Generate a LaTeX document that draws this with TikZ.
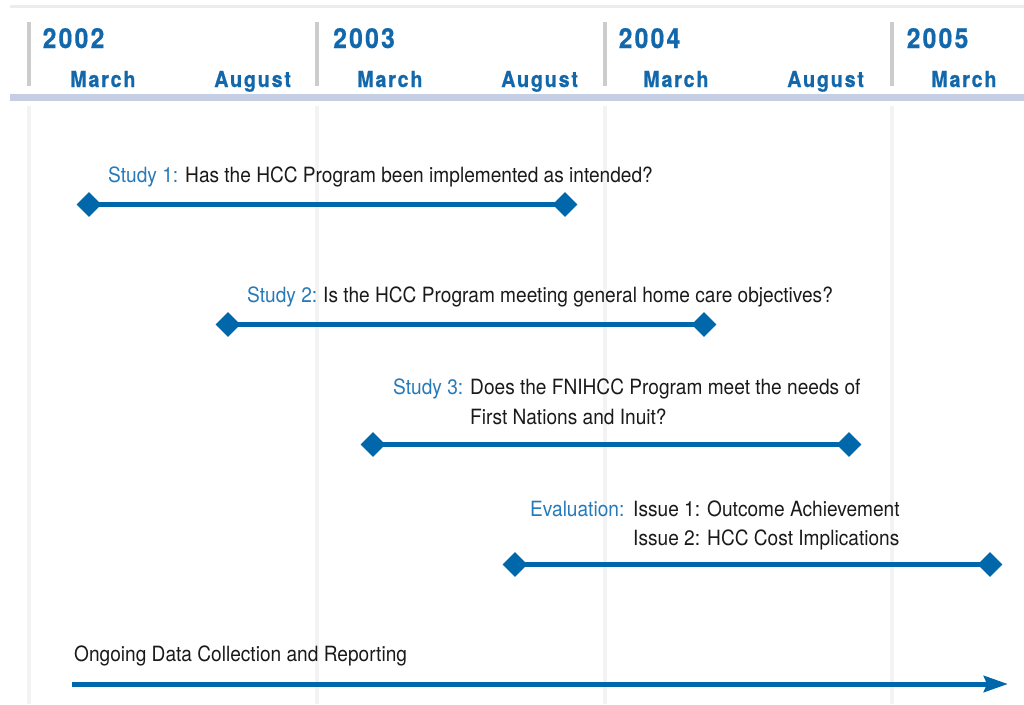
\documentclass[tikz,border=0pt]{standalone}
\usepackage{fontspec}
\setmainfont{TeX Gyre Heros}[FakeStretch=0.91]
\newfontfamily\headfont{TeX Gyre Heros}[FakeStretch=0.9,LetterSpace=8,FakeBold=0.6]
\usetikzlibrary{shapes.geometric,arrows.meta}
\definecolor{barblue}{RGB}{0,104,170}
\definecolor{labblue}{RGB}{38,122,186}
\definecolor{headblue}{RGB}{18,104,170}
\definecolor{bandblue}{RGB}{197,206,227}
\definecolor{sepgray}{RGB}{204,204,204}
\definecolor{gridgray}{RGB}{243,243,243}
\definecolor{topgray}{RGB}{236,236,236}
\definecolor{bodyink}{RGB}{26,26,26}
\pgfdeclarelayer{grid}
\pgfdeclarelayer{bars}
\pgfsetlayers{grid,bars,main}

\begin{document}
\begin{tikzpicture}[x=1pt,y=-1pt,
  hyear/.style={anchor=base west, inner sep=0pt, text=headblue,
    font=\headfont\bfseries\fontsize{27.5}{31}\selectfont},
  hmonth/.style={anchor=base west, inner sep=0pt, text=headblue,
    font=\headfont\bfseries\fontsize{22}{26}\selectfont},
  studylab/.style={anchor=base west, inner sep=0pt, text=labblue,
    font=\fontsize{21}{25}\selectfont},
  studytxt/.style={anchor=base west, inner sep=0pt, text=bodyink,
    font=\fontsize{21}{25}\selectfont},
  endmark/.style={diamond, fill=barblue, inner sep=0pt,
    minimum width=25pt, minimum height=25pt},
  barline/.style={barblue, line width=5pt},
]
\useasboundingbox (0,0) rectangle (1024,704);

% grid columns, header rules and separators
\begin{pgfonlayer}{grid}
\fill[topgray] (10,5) rectangle (1024,7.5);
\foreach \x in {29,316.5,604.5,891.5} {
  \fill[gridgray] (\x-2,106) rectangle (\x+2,704);
  \fill[sepgray] (\x-2,22) rectangle (\x+2,86);
}
\fill[bandblue] (10,94) rectangle (1024,101);
\end{pgfonlayer}

% years and months
\node[hyear] (y2002) at (42.5,48) {2002};
\node[hyear] (y2003) at (333,48) {2003};
\node[hyear] (y2004) at (618.5,48) {2004};
\node[hyear] (y2005) at (906.5,48) {2005};
\node[hmonth] (m1) at (70,87) {March};
\node[hmonth] (m2) at (214,87) {August};
\node[hmonth] (m3) at (357,87) {March};
\node[hmonth] (m4) at (501,87) {August};
\node[hmonth] (m5) at (643,87) {March};
\node[hmonth] (m6) at (787,87) {August};
\node[hmonth] (m7) at (931,87) {March};

% Study 1
\node[studylab] (s1lab) at (108,182) {Study 1:};
\node[studytxt] (s1txt) at (185,182) {Has the HCC Program been implemented as intended?};
\node[endmark] (s1a) at (89,204.5) {};
\node[endmark] (s1b) at (565,204.5) {};

% Study 2
\node[studylab] (s2lab) at (247,302) {Study 2:};
\node[studytxt] (s2txt) at (323,302) {Is the HCC Program meeting general home care objectives?};
\node[endmark] (s2a) at (228,324.5) {};
\node[endmark] (s2b) at (704,324.5) {};

% Study 3
\node[studylab] (s3lab) at (393,394) {Study 3:};
\node[studytxt] (s3txta) at (470,394) {Does the FNIHCC Program meet the needs of};
\node[studytxt] (s3txtb) at (470,424) {First Nations and Inuit?};
\node[endmark] (s3a) at (373,444.5) {};
\node[endmark] (s3b) at (849,444.5) {};

% Evaluation
\node[studylab] (evlab) at (530,516) {Evaluation:};
\node[studytxt] (evtxta) at (633,516) {Issue 1: Outcome Achievement};
\node[studytxt] (evtxtb) at (633,545) {Issue 2: HCC Cost Implications};
\node[endmark] (eva) at (515,564.5) {};
\node[endmark] (evb) at (990,564.5) {};

% bars run between the diamond centres, beneath the diamonds
\begin{pgfonlayer}{bars}
\draw[barline] (s1a.center) -- (s1b.center);
\draw[barline] (s2a.center) -- (s2b.center);
\draw[barline] (s3a.center) -- (s3b.center);
\draw[barline] (eva.center) -- (evb.center);
\end{pgfonlayer}

% Ongoing data collection
\node[studytxt] (ogtxt) at (74,661) {Ongoing Data Collection and Reporting};
\coordinate (og1) at (72,684);
\coordinate (og2) at (1008,684);
\draw[barline, -{Stealth[length=24pt,width=16pt,inset=3pt]}] (og1) -- (og2);
\end{tikzpicture}
\end{document}
